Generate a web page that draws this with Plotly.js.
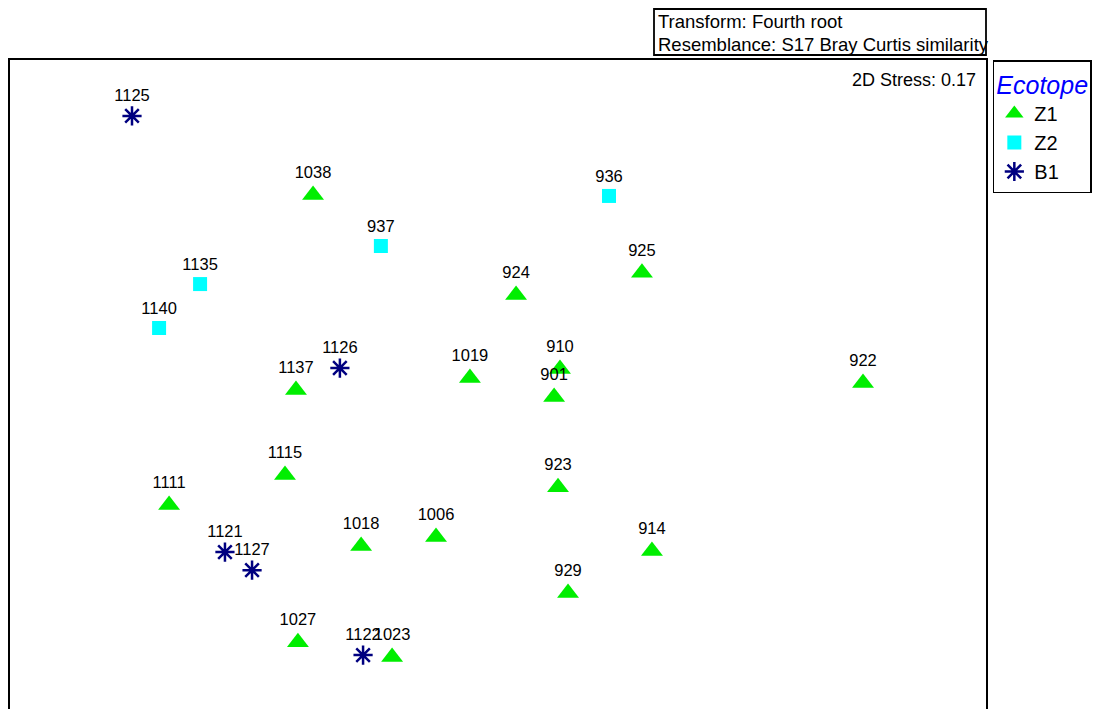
<!DOCTYPE html>
<html>
<head>
<meta charset="utf-8">
<script src="https://cdn.plot.ly/plotly-3.0.1.min.js"></script>
<style>
html, body { margin: 0; padding: 0; overflow: hidden; background: #fff; }
#chart { width: 1130px; height: 760px; }
</style>
</head>
<body>
<div id="chart"></div>
<script>
// NMDS coordinates (MDS1, MDS2)
const z1Labels = ["1038","924","925","1019","910","901","922","1137","1115","1111","923","1018","1006","914","929","1027","1023"];
const z1X = [-0.758, 0.074, 0.590, -0.115, 0.254, 0.230, 1.496, -0.828, -0.873, -1.348, 0.246, -0.561, -0.254, 0.631, 0.287, -0.820, -0.434];
const z1Y = [0.799, 0.389, 0.480, 0.049, 0.086, -0.029, 0.029, 0.000, -0.348, -0.471, -0.398, -0.639, -0.602, -0.660, -0.832, -1.033, -1.094];

const z2Labels = ["936","937","1135","1140"];
const z2X = [0.455, -0.480, -1.221, -1.389];
const z2Y = [0.795, 0.590, 0.434, 0.254];

const b1Labels = ["1125","1126","1121","1127","1122"];
const b1X = [-1.500, -0.648, -1.119, -1.008, -0.553];
const b1Y = [1.123, 0.090, -0.664, -0.738, -1.086];

const groupNames = ["Z1", "Z2", "B1"];
const stressText = "2D Stress: 0.17";
const infoLines = ["Transform: Fourth root", "Resemblance: S17 Bray Curtis similarity"];
const legendTitle = "Ecotope";

const FONT = "Liberation Sans, Arial, sans-serif";
const labelFont = { family: FONT, size: 16.5, color: "#000" };

const traces = [
  {
    x: z1X, y: z1Y, text: z1Labels, name: groupNames[0],
    mode: "markers+text", type: "scatter", textposition: "top center",
    textfont: labelFont,
    marker: { symbol: "triangle-up", size: 19, color: "#00ee00", line: { width: 0 } },
    hoverinfo: "text"
  },
  {
    x: z2X, y: z2Y, text: z2Labels, name: groupNames[1],
    mode: "markers+text", type: "scatter", textposition: "top center",
    textfont: labelFont,
    marker: { symbol: "square", size: 14, color: "#00ffff", line: { width: 0 } },
    hoverinfo: "text"
  },
  {
    x: b1X, y: b1Y, text: b1Labels, name: groupNames[2],
    mode: "markers+text", type: "scatter", textposition: "top center",
    textfont: labelFont,
    marker: { symbol: "asterisk-open", size: 16, color: "#000080", line: { width: 2.5, color: "#000080" } },
    hoverinfo: "text"
  }
];

const layout = {
  width: 1130, height: 760,
  margin: { l: 10, r: 144, t: 60, b: 40 },
  paper_bgcolor: "#fff", plot_bgcolor: "#fff",
  showlegend: true,
  font: { family: FONT, color: "#000" },
  xaxis: {
    range: [-2, 2], showgrid: false, zeroline: false, showticklabels: false, ticks: "",
    showline: true, mirror: true, linecolor: "#000", linewidth: 1.8
  },
  yaxis: {
    range: [-1.352, 1.352], showgrid: false, zeroline: false, showticklabels: false, ticks: "",
    showline: true, mirror: true, linecolor: "#000", linewidth: 1.8
  },
  legend: {
    x: 1.007, xanchor: "left", y: 1.0, yanchor: "top",
    bordercolor: "#000", borderwidth: 1.5, bgcolor: "#fff",
    font: { family: FONT, size: 20, color: "#000" },
    title: { text: legendTitle, font: { family: FONT, size: 25, color: "#0000ff", style: "italic" } },
    tracegroupgap: 0, itemwidth: 30
  },
  shapes: [
    { type: "rect", xref: "paper", yref: "paper",
      x0: (654 - 10) / 976, x1: (986 - 10) / 976,
      y0: (720 - 55) / 660, y1: (720 - 9) / 660,
      line: { color: "#000", width: 1.8 }, fillcolor: "rgba(0,0,0,0)" }
  ],
  annotations: [
    { xref: "paper", yref: "paper", x: (656 - 10) / 976, y: (720 - 21) / 660,
      xanchor: "left", yanchor: "middle", showarrow: false, text: infoLines[0],
      font: { family: FONT, size: 18.5, color: "#000" } },
    { xref: "paper", yref: "paper", x: (656 - 10) / 976, y: (720 - 44) / 660,
      xanchor: "left", yanchor: "middle", showarrow: false, text: infoLines[1],
      font: { family: FONT, size: 18.5, color: "#000" } },
    { xref: "paper", yref: "paper", x: (978 - 10) / 976, y: (720 - 80) / 660,
      xanchor: "right", yanchor: "middle", showarrow: false, text: stressText,
      font: { family: FONT, size: 18, color: "#000" } }
  ]
};

Plotly.newPlot("chart", traces, layout, { displayModeBar: false, staticPlot: true });
</script>
</body>
</html>
